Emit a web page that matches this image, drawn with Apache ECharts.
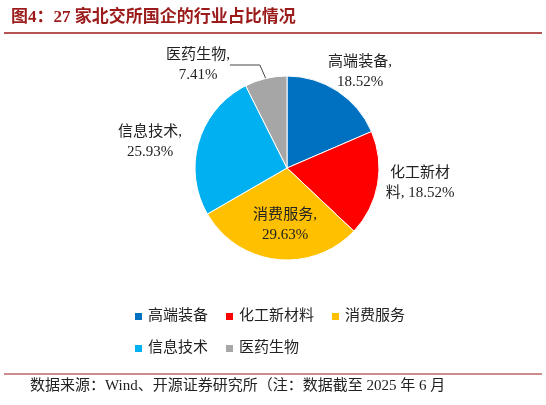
<!DOCTYPE html><html><head><meta charset="utf-8"><script src="https://cdn.jsdelivr.net/npm/echarts@6/dist/echarts.min.js"></script></head><body style="margin:0"><div id="c" style="width:546px;height:405px"></div><script>
const categories=['高端装备','化工新材料','消费服务','信息技术','医药生物'];
const values=[18.52,18.52,29.63,25.93,7.41];
const labelTexts=['高端装备,\n18.52%','化工新材\n料, 18.52%','消费服务,\n29.63%','信息技术,\n25.93%','医药生物,\n7.41%'];
const colors=['#0070C0','#FF0000','#FFC000','#00B0F0','#A6A6A6'];
const F='Liberation Serif, Noto Sans CJK SC';
const pos=[[360,72],[420,183],[285,225],[150,142],[198,65]];
const c=echarts.init(document.getElementById('c'));
c.setOption({
 animation:false,color:colors,
 title:{text:'图4：27 家北交所国企的行业占比情况',left:6,top:4,textStyle:{fontFamily:F,fontSize:17,fontWeight:'bold',color:'#9B1B1B'}},
 graphic:[{type:'line',shape:{x1:4,y1:33,x2:542,y2:33},style:{stroke:'#9B1B1B',lineWidth:1.5}},
  {type:'line',shape:{x1:4,y1:374,x2:542,y2:374},style:{stroke:'#9B1B1B',lineWidth:1}},
  {type:'text',left:30,top:379,style:{text:'数据来源：Wind、开源证券研究所（注：数据截至 2025 年 6 月',font:'15px '+F,fill:'#222'}}],
 legend:[{data:categories.slice(0,3),left:128,top:304,itemWidth:9,itemHeight:9,itemGap:16,icon:'rect',textStyle:{fontFamily:F,fontSize:15,color:'#222'}},
  {data:categories.slice(3),left:128,top:336,itemWidth:9,itemHeight:9,itemGap:16,icon:'rect',textStyle:{fontFamily:F,fontSize:15,color:'#222'}}],
 series:[{type:'pie',center:[287,168],radius:92,startAngle:90,clockwise:true,
  itemStyle:{borderColor:'#fff',borderWidth:1},
  label:{formatter:p=>labelTexts[p.dataIndex],fontFamily:F,fontSize:15,color:'#222',lineHeight:20,align:'center'},
  labelLine:{show:false},
  labelLayout:p=>({x:pos[p.dataIndex][0],y:pos[p.dataIndex][1],align:'center',verticalAlign:'middle'}),
  data:categories.map((n,i)=>({name:n,value:values[i],labelLine:i===4?{show:true,lineStyle:{color:'#444'}}:undefined}))}]
});
</script></body></html>
